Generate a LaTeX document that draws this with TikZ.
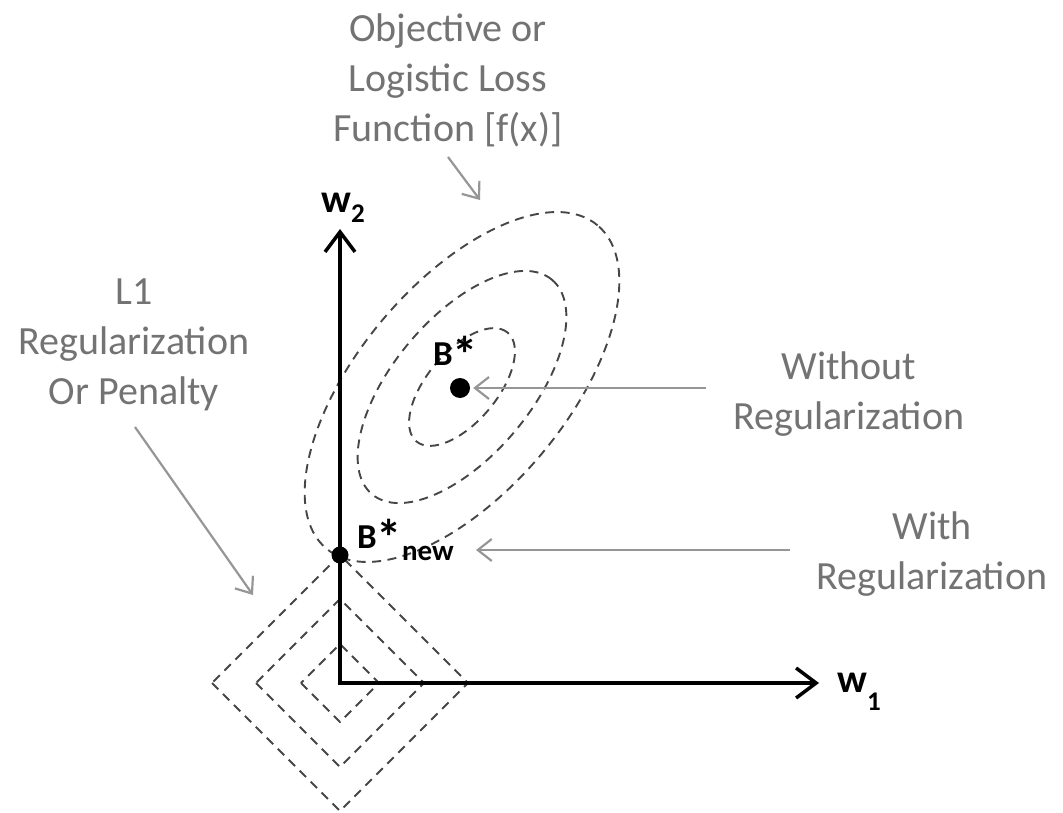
\documentclass[tikz,border=0pt]{standalone}
\usepackage{fontspec}
\usepackage{graphicx}
\setmainfont{Carlito}
\usetikzlibrary{arrows.meta}
\definecolor{labelgray}{RGB}{115,115,115}
\definecolor{dashgray}{RGB}{70,70,70}
\definecolor{arrowgray}{RGB}{150,150,150}
\newcommand{\bigast}{\raisebox{-7pt}{\scalebox{1.45}{*}}}
\begin{document}
\begin{tikzpicture}[x=1pt,y=-1pt,
  lbl/.style={text=labelgray, align=center, inner sep=0pt, font=\fontsize{40}{50}\selectfont},
  blk/.style={text=black, inner sep=0pt, font=\bfseries\fontsize{35}{35}\selectfont},
  axlbl/.style={text=black, inner sep=0pt, font=\bfseries\fontsize{40}{40}\selectfont},
  contour/.style={draw=dashgray, line width=1.9pt, dash pattern=on 9pt off 6.5pt},
  axis/.style={draw=black, line width=3.5pt, line join=miter},
  garrow/.style={draw=arrowgray, line width=2.2pt, -{Straight Barb[length=14pt,width=22pt]}},
  dot/.style={circle, fill=black, inner sep=0pt}]
\useasboundingbox (0,0) rectangle (1063,813);
% contours of the loss
\draw[contour, rotate around={50:(462,387)}] (462,387) ellipse [x radius=71pt, y radius=35pt];
\draw[contour, rotate around={50:(462,387)}] (462,387) ellipse [x radius=140pt, y radius=69pt];
\draw[contour, rotate around={50:(462,387)}] (462,387) ellipse [x radius=211pt, y radius=104pt];
% L1 diamonds
\draw[contour] (212,683) -- (340,811) -- (468,683) -- (340,555) -- cycle;
\draw[contour] (256,683) -- (340,767) -- (424,683) -- (340,599) -- cycle;
\draw[contour] (301,683) -- (340,722) -- (379,683) -- (340,644) -- cycle;
% axes
\coordinate (O) at (340,683);
\coordinate (ytip) at (340,229);
\coordinate (xtip) at (819,683);
\draw[axis, {Straight Barb[length=20pt,width=30pt]}-{Straight Barb[length=20pt,width=30pt]}] (ytip) -- (O) -- (xtip);
\node[axlbl, anchor=base west] (w2) at (321,213) {w\raisebox{-10pt}{\fontsize{27}{27}\selectfont 2}};
\node[axlbl, anchor=base west] (w1) at (837,692) {w\raisebox{-18pt}{\fontsize{27}{27}\selectfont 1}};
% points
\node[dot, minimum size=20pt] (bstar) at (460,388) {};
\node[dot, minimum size=17pt] (bnew) at (340,555) {};
\node[blk, anchor=base west] (bstarlbl) at (433,365) {B\bigast};
\node[blk, anchor=base west] (bnewlbl) at (357,548) {B\bigast\raisebox{-12pt}{\fontsize{29}{29}\selectfont new}};
% labels
\node[lbl] (obj) at (448,80) {Objective or\\Logistic Loss\\Function [f(x)]};
\node[lbl] (l1) at (134,345) {L1\\Regularization\\Or Penalty};
\node[lbl] (without) at (849,394) {Without\\Regularization};
\node[lbl] (with) at (932,554) {With\\Regularization};
% pointer arrows
\coordinate (objtail) at (448,157);
\coordinate (objtip) at (480,200);
\coordinate (l1tail) at (135,427);
\coordinate (l1tip) at (253,595);
\coordinate (wotail) at (706,388);
\coordinate (wtail) at (790,550);
\draw[garrow] (objtail) -- (objtip);
\draw[garrow] (l1tail) -- (l1tip);
\draw[garrow, shorten >=3pt] (wotail) -- (bstar.east);
\draw[garrow] (wtail) -- ++(-314,0) coordinate (wtip);
\end{tikzpicture}
\end{document}
